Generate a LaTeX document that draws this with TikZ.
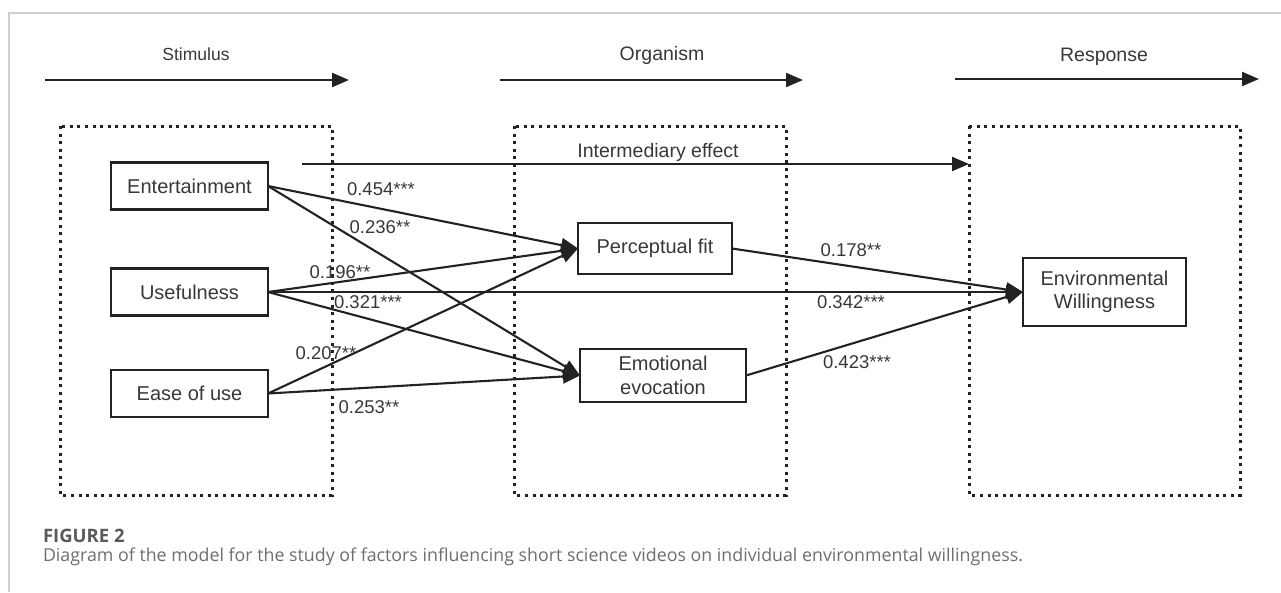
\documentclass[tikz,border=0pt]{standalone}
\usepackage{fontspec}
\newfontfamily\diagfont{Liberation Sans}
\newfontfamily\capfont{Open Sans}
\definecolor{ink}{HTML}{222222}
\definecolor{txt}{HTML}{383838}
\definecolor{rule}{HTML}{D0D0D0}
\definecolor{capdark}{HTML}{5A5A5A}
\definecolor{caplight}{HTML}{6E6E6E}
\usetikzlibrary{arrows.meta}
\usetikzlibrary{positioning}
\tikzstyle{base}=[x=1pt, y=-1pt, inner sep=0pt, outer sep=0pt]
\tikzstyle{factor}=[draw=ink, line width=2.2pt, text=txt, minimum width=157pt, minimum height=47pt, align=center, font=\diagfont\fontsize{20}{23.5}\selectfont]
\tikzstyle{link}=[draw=ink, line width=2.1pt, -{Triangle[length=17pt,width=14pt]}]
\tikzstyle{coef}=[text=txt, font=\diagfont\fontsize{18.5}{20}\selectfont]
\tikzstyle{stagename}=[text=txt, anchor=base, font=\diagfont\fontsize{19.5}{22}\selectfont]
\tikzstyle{stagebox}=[draw=ink, line width=3pt, dash pattern=on 3pt off 4.6pt]
\tikzstyle{captext}=[anchor=base west, text=caplight, font=\capfont\fontsize{17.8}{22}\selectfont]

\begin{document}
\begin{tikzpicture}[base]
    \path [use as bounding box] (0,0) rectangle (1281,592);
    \draw [rule, line width=1.2pt] (9,592) -- (9,13) -- (1281,13);

    \node [stagename, font=\diagfont\fontsize{17.5}{20}\selectfont] (stim) at (196,60) {Stimulus};
    \node [stagename] (org) at (662,60) {Organism};
    \node [stagename] (resp) at (1104,61) {Response};
    \coordinate (stimA) at (45,80);
    \coordinate (stimB) at (349,80);
    \coordinate (orgA) at (500,80);
    \coordinate (orgB) at (803,80);
    \coordinate (respA) at (955,79);
    \coordinate (respB) at (1259,79);
    \draw [link] (stimA) -- (stimB);
    \draw [link] (orgA) -- (orgB);
    \draw [link] (respA) -- (respB);

    \draw [stagebox] (60,126) rectangle (332,495);
    \draw [stagebox] (514,126) rectangle (786,495);
    \draw [stagebox] (969,126) rectangle (1240,495);

    \node [stagename] (mid) at (658,157) {Intermediary effect};
    \coordinate (midA) at (302,164);
    \coordinate (midB) at (969,164);
    \draw [link] (midA) -- (midB);

    \node [factor] (ent) at (189.5,186) {Entertainment};
    \node [factor] (use) at (189.5,292) {Usefulness};
    \node [factor] (ease) at (189.5,393.5) {Ease of use};
    \node [factor, minimum width=154pt, minimum height=51pt] (fit) at (655,248.5) {Perceptual fit};
    \node [factor, minimum width=166pt, minimum height=53pt] (emo) at (663,375.5) {Emotional\\evocation};
    \node [factor, minimum width=163pt, minimum height=68pt] (will) at (1104.5,292) {Environmental\\Willingness};

    \draw [link] (ent.east) -- (fit.west);
    \draw [link] (ent.east) -- (emo.west);
    \draw [link] (use.east) -- (fit.west);
    \draw [link] (use.east) -- (emo.west);
    \draw [link] (use.east) -- (will.west);
    \draw [link] (ease.east) -- (fit.west);
    \draw [link] (ease.east) -- (emo.west);
    \draw [link] (fit.east) -- (will.west);
    \draw [link] (emo.east) -- (will.west);

    \node [coef] (c1) at (381,189) {0.454***};
    \node [coef] (c2) at (380,227) {0.236**};
    \node [coef] (c3) at (340,272) {0.196**};
    \node [coef] (c4) at (368,302) {0.321***};
    \node [coef] (c5) at (326,353) {0.207**};
    \node [coef] (c6) at (369,407) {0.253**};
    \node [coef] (c7) at (851,250) {0.178**};
    \node [coef] (c8) at (851,302) {0.342***};
    \node [coef] (c9) at (857,362) {0.423***};

    \node [captext, text=capdark, font=\capfont\bfseries\fontsize{18.5}{22}\selectfont] (fig) at (43,542) {FIGURE 2};
    \node [captext] (cap) at (43,561) {Diagram of the model for the study of factors influencing short science videos on individual environmental willingness.};
\end{tikzpicture}
\end{document}
